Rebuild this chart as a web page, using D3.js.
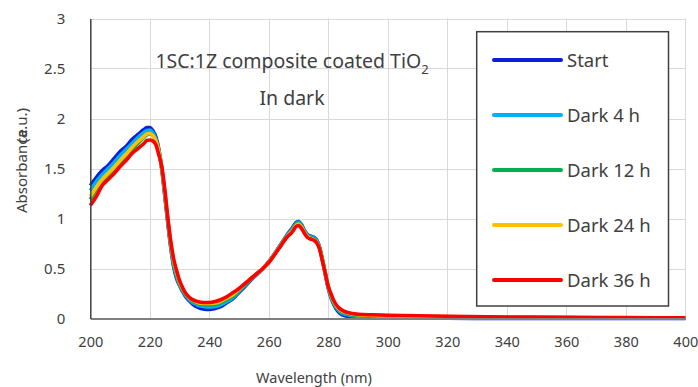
<!DOCTYPE html>
<html>
<head>
<meta charset="utf-8">
<script src="https://cdn.jsdelivr.net/npm/d3@7"></script>
<style>
  html, body { margin: 0; padding: 0; background: #fff; }
  svg { display: block; font-family: "Noto Sans", "Open Sans", sans-serif; }
</style>
</head>
<body>
<svg id="chart" width="698" height="387"></svg>
<script>
// Wavelength sampling points (nm)
const wavelengths = [
  200,202,204,206,208,210,212,214,216,218,
  219,220,221,222,223,224,225,226,227,228,229,230,231,232,233,234,235,236,
  238,240,242,244,246,248,250,252,254,256,258,260,262,264,266,268,
  269,270,271,272,273,274,275,276,277,278,279,280,281,282,283,284,
  286,288,290,295,300,
  320,340,360,380,400
];

// Absorbance (a.u.) for each sample
const startAbs = [
  1.33,1.41,1.48,1.53,1.60,1.67,1.72,1.79,1.84,1.89,
  1.91,1.91,1.88,1.82,1.70,1.50,1.24,0.97,0.72,0.52,0.40,0.33,0.27,0.22,0.185,0.155,0.13,0.115,
  0.095,0.09,0.10,0.12,0.16,0.20,0.26,0.32,0.385,0.44,0.50,0.57,0.65,0.74,0.83,0.91,
  0.955,0.97,0.94,0.88,0.84,0.825,0.815,0.79,0.72,0.59,0.44,0.30,0.20,0.13,0.08,0.05,
  0.025,0.015,0.01,0.006,0.004,
  0.002,0.001,0.001,0.0,0.0
];
const dark4Abs = [
  1.28,1.37,1.44,1.50,1.56,1.63,1.69,1.75,1.81,1.86,
  1.88,1.885,1.86,1.80,1.69,1.50,1.25,0.98,0.73,0.54,0.42,0.34,0.28,0.23,0.195,0.17,0.15,0.135,
  0.12,0.115,0.12,0.14,0.17,0.21,0.27,0.33,0.39,0.445,0.50,0.57,0.65,0.74,0.825,0.90,
  0.945,0.965,0.935,0.875,0.835,0.82,0.81,0.785,0.72,0.59,0.45,0.31,0.21,0.14,0.095,0.065,
  0.04,0.028,0.022,0.016,0.013,
  0.009,0.006,0.004,0.003,0.002
];
const dark12Abs = [
  1.19,1.29,1.37,1.43,1.49,1.56,1.62,1.69,1.75,1.81,
  1.835,1.845,1.83,1.78,1.68,1.51,1.27,1.00,0.75,0.56,0.44,0.35,0.29,0.24,0.21,0.185,0.165,0.15,
  0.14,0.135,0.14,0.16,0.19,0.225,0.28,0.34,0.395,0.45,0.50,0.565,0.645,0.735,0.82,0.89,
  0.935,0.955,0.925,0.865,0.825,0.81,0.80,0.775,0.71,0.59,0.45,0.32,0.22,0.15,0.105,0.075,
  0.05,0.037,0.03,0.024,0.02,
  0.014,0.01,0.008,0.006,0.004
];
const dark24Abs = [
  1.22,1.31,1.39,1.45,1.51,1.58,1.64,1.71,1.77,1.82,
  1.845,1.85,1.83,1.78,1.67,1.51,1.28,1.01,0.77,0.58,0.46,0.365,0.30,0.25,0.215,0.19,0.175,0.16,
  0.15,0.15,0.155,0.175,0.205,0.24,0.29,0.35,0.40,0.45,0.50,0.565,0.645,0.73,0.815,0.88,
  0.925,0.945,0.915,0.86,0.82,0.80,0.79,0.77,0.705,0.585,0.45,0.32,0.23,0.16,0.115,0.085,
  0.06,0.045,0.038,0.031,0.027,
  0.019,0.014,0.011,0.008,0.006
];
const dark36Abs = [
  1.13,1.22,1.33,1.39,1.45,1.52,1.58,1.65,1.70,1.75,
  1.78,1.785,1.775,1.74,1.64,1.52,1.30,1.02,0.78,0.60,0.48,0.38,0.31,0.255,0.22,0.195,0.18,0.17,
  0.16,0.16,0.17,0.19,0.22,0.26,0.30,0.35,0.40,0.45,0.50,0.56,0.64,0.725,0.81,0.87,
  0.915,0.93,0.90,0.85,0.81,0.795,0.785,0.76,0.70,0.58,0.45,0.32,0.24,0.17,0.125,0.095,
  0.065,0.05,0.043,0.037,0.033,
  0.022,0.015,0.012,0.009,0.006
];

const seriesNames = ["Start", "Dark 4 h", "Dark 12 h", "Dark 24 h", "Dark 36 h"];
const seriesValues = [startAbs, dark4Abs, dark12Abs, dark24Abs, dark36Abs];
const seriesColors = ["#0a1fd6", "#00b0f0", "#00b050", "#ffc000", "#ff0000"];

const xTicks = [200,220,240,260,280,300,320,340,360,380,400];
const yTicks = [0,0.5,1,1.5,2,2.5,3];

const svg = d3.select("#chart");
const plot = { left: 90.3, right: 685.3, top: 18.5, bottom: 318.5 };

const x = d3.scaleLinear().domain([200, 400]).range([plot.left, plot.right]);
const y = d3.scaleLinear().domain([0, 3]).range([plot.bottom, plot.top]);

// Gridlines
const grid = svg.append("g").attr("stroke", "#d9d9d9").attr("stroke-width", 1);
grid.selectAll("line.h").data(yTicks.filter(d => d > 0)).join("line")
  .attr("x1", plot.left).attr("x2", plot.right)
  .attr("y1", d => Math.round(y(d)) + 0.5).attr("y2", d => Math.round(y(d)) + 0.5);
grid.selectAll("line.v").data(xTicks.filter(d => d > 200)).join("line")
  .attr("x1", d => Math.round(x(d)) + 0.5).attr("x2", d => Math.round(x(d)) + 0.5)
  .attr("y1", plot.top).attr("y2", plot.bottom);

// Spectra
const line = d3.line()
  .x((d, i) => x(wavelengths[i]))
  .y(d => y(d))
  .curve(d3.curveMonotoneX);

svg.append("g").selectAll("path").data(seriesValues).join("path")
  .attr("fill", "none")
  .attr("stroke", (d, i) => seriesColors[i])
  .attr("stroke-width", 3.6)
  .attr("stroke-linejoin", "round")
  .attr("d", d => line(d));

// Axes
const xAxis = svg.append("g")
  .attr("transform", `translate(0,${plot.bottom})`)
  .call(d3.axisBottom(x).tickValues(xTicks).tickSize(0).tickSizeOuter(0).tickPadding(18));
xAxis.select(".domain").attr("stroke", "#7f7f7f").attr("stroke-width", 2);
xAxis.selectAll("text").attr("font-size", 14.5).attr("fill", "#404040")
  .attr("font-family", "\"Noto Sans\", sans-serif");

const yAxis = svg.append("g")
  .attr("transform", `translate(${plot.left},0)`)
  .call(d3.axisLeft(y).tickValues(yTicks).tickFormat(d => String(d)).tickSize(0).tickSizeOuter(0).tickPadding(25));
yAxis.select(".domain").attr("stroke", "#404040").attr("stroke-width", 1.5);
yAxis.selectAll("text").attr("font-size", 15).attr("fill", "#404040")
  .attr("font-family", "\"Noto Sans\", sans-serif");

// Axis titles
svg.append("text")
  .attr("x", 314).attr("y", 383)
  .attr("text-anchor", "middle")
  .attr("font-size", 14.5).attr("fill", "#404040")
  .text("Wavelength (nm)");

const yTitle = svg.append("g").attr("fill", "#404040").attr("font-size", 15);
yTitle.append("text")
  .attr("transform", "translate(27,213) rotate(-90)")
  .attr("text-anchor", "start")
  .text("Absorbance");
yTitle.append("text")
  .attr("transform", "translate(27,108) rotate(-90)")
  .attr("text-anchor", "end")
  .text("(a.u.)");

// Annotation
const note = svg.append("g").attr("fill", "#404040").attr("font-size", 19.5);
const t1 = note.append("text").attr("x", 292).attr("y", 68).attr("text-anchor", "middle");
t1.append("tspan").text("1SC:1Z composite coated TiO");
t1.append("tspan").attr("font-size", 13).attr("dy", 6).text("2");
note.append("text").attr("x", 292).attr("y", 105).attr("text-anchor", "middle").text("In dark");

// Legend
const legend = svg.append("g");
legend.append("rect")
  .attr("x", 476.7).attr("y", 31.7).attr("width", 191.8).attr("height", 274.3)
  .attr("fill", "#fff").attr("stroke", "#404040").attr("stroke-width", 1.5);
const rowY = d3.scalePoint().domain(seriesNames).range([60, 280]);
const rows = legend.selectAll("g.row").data(seriesNames).join("g")
  .attr("transform", d => `translate(0,${rowY(d)})`);
rows.append("line")
  .attr("x1", 494).attr("x2", 561)
  .attr("stroke", (d, i) => seriesColors[i])
  .attr("stroke-width", 4).attr("stroke-linecap", "round");
rows.append("text")
  .attr("x", 567).attr("y", 6.5)
  .attr("font-size", 18.5).attr("fill", "#404040")
  .text(d => d);
</script>
</body>
</html>
